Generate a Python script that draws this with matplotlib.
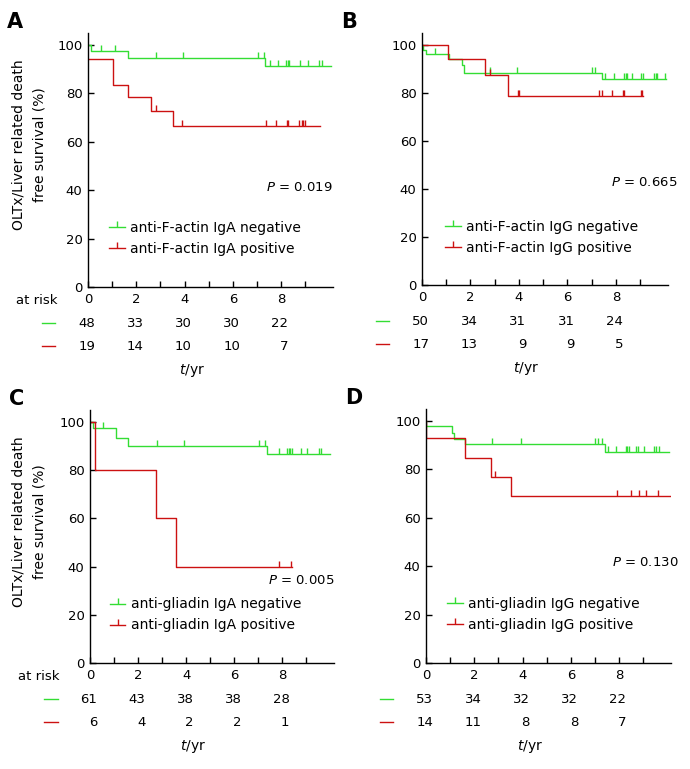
import matplotlib
matplotlib.use("Agg")
import matplotlib.pyplot as plt
from matplotlib.lines import Line2D
import numpy as np

GRUEN = "#33dd33"
ROT = "#cc1111"

# ---- Daten ----
# Panel A: anti-F-actin IgA
a_neg_t = [0, 0.12, 1.66, 7.34]
a_neg_s = [100, 97.6, 94.8, 91.5]
a_neg_ende = 10.05
a_neg_zens = [0.55, 1.13, 2.83, 3.93, 7.03, 7.28, 7.52, 7.86, 8.22, 8.28, 8.34,
              8.8, 9.1, 9.59, 9.7]
a_pos_t = [0, 1.03, 1.66, 2.62, 3.52]
a_pos_s = [94.4, 83.4, 78.4, 72.6, 66.4]
a_pos_ende = 9.61
a_pos_zens = [2.83, 3.9, 7.38, 7.79, 8.25, 8.3, 8.73, 8.85, 8.92, 8.98]
a_risk_neg = [48, 33, 30, 30, 22]
a_risk_pos = [19, 14, 10, 10, 7]

# Panel B: anti-F-actin IgG
b_neg_t = [0, 0.04, 0.18, 1.1, 1.65, 1.72, 7.42]
b_neg_s = [100, 98.0, 96.1, 94.1, 91.7, 88.5, 85.7]
b_neg_ende = 10.07
b_neg_zens = [0.52, 2.8, 3.93, 7.01, 7.15, 7.56, 7.93, 8.34, 8.4, 8.47, 8.68,
              9.05, 9.1, 9.58, 9.64, 9.7, 10.03]
b_pos_t = [0, 1.07, 2.61, 3.53]
b_pos_s = [100, 94.1, 87.3, 78.9]
b_pos_ende = 9.1
b_pos_zens = [2.81, 3.95, 4.02, 7.31, 7.42, 7.83, 8.3, 8.34, 9.05, 9.09]
b_risk_neg = [50, 34, 31, 31, 24]
b_risk_pos = [17, 13, 9, 9, 5]

# Panel C: anti-gliadin IgA
c_neg_t = [0, 0.14, 1.07, 1.58, 7.37]
c_neg_s = [100, 97.7, 93.5, 89.9, 86.6]
c_neg_ende = 10.0
c_neg_zens = [0.52, 2.77, 3.92, 7.05, 7.26, 7.88, 8.19, 8.26, 8.33, 8.42, 8.77,
              9.04, 9.52, 9.62]
c_pos_t = [0, 0.2, 2.74, 3.59]
c_pos_s = [100, 80, 60, 40]
c_pos_ende = 8.42
c_pos_zens = [7.85, 8.36]
c_risk_neg = [61, 43, 38, 38, 28]
c_risk_pos = [6, 4, 2, 2, 1]

# Panel D: anti-gliadin IgG
d_neg_t = [0, 0.02, 1.08, 1.16, 1.63, 7.42]
d_neg_s = [100, 98.1, 95.0, 92.6, 90.6, 87.3]
d_neg_ende = 10.06
d_neg_zens = [2.75, 3.92, 7.01, 7.11, 7.29, 7.52, 7.86, 8.27, 8.34, 8.41, 8.69,
              8.78, 9.03, 9.44, 9.54, 9.65]
d_pos_t = [0, 0.02, 1.61, 2.68, 3.53]
d_pos_s = [100, 92.9, 84.6, 76.9, 69.0]
d_pos_ende = 10.1
d_pos_zens = [2.87, 7.93, 8.48, 8.82, 9.12, 9.6]
d_risk_neg = [53, 34, 32, 32, 22]
d_risk_pos = [14, 11, 8, 8, 7]

risk_zeiten = [0, 2, 4, 6, 8]
x_ticks = list(range(10))
x_labels = [str(i) if i % 2 == 0 else "" for i in x_ticks]
y_ticks = [0, 20, 40, 60, 80, 100]

panels = [
    dict(buchstabe="A", neg=(a_neg_t, a_neg_s, a_neg_ende, a_neg_zens),
         pos=(a_pos_t, a_pos_s, a_pos_ende, a_pos_zens),
         risk=(a_risk_neg, a_risk_pos), p="0.019",
         labels=("anti-F-actin IgA negative", "anti-F-actin IgA positive"),
         rect=(88, 333, 287, 33), p_pos=(1.0, 41.3), leg=(0.085, 0.19), ylab=True),
    dict(buchstabe="B", neg=(b_neg_t, b_neg_s, b_neg_ende, b_neg_zens),
         pos=(b_pos_t, b_pos_s, b_pos_ende, b_pos_zens),
         risk=(b_risk_neg, b_risk_pos), p="0.665",
         labels=("anti-F-actin IgG negative", "anti-F-actin IgG positive"),
         rect=(422, 668, 285, 33), p_pos=(1.037, 42.5), leg=(0.093, 0.19), ylab=False),
    dict(buchstabe="C", neg=(c_neg_t, c_neg_s, c_neg_ende, c_neg_zens),
         pos=(c_pos_t, c_pos_s, c_pos_ende, c_pos_zens),
         risk=(c_risk_neg, c_risk_pos), p="0.005",
         labels=("anti-gliadin IgA negative", "anti-gliadin IgA positive"),
         rect=(90, 334, 663, 410), p_pos=(1.0, 34.3), leg=(0.08, 0.19), ylab=True),
    dict(buchstabe="D", neg=(d_neg_t, d_neg_s, d_neg_ende, d_neg_zens),
         pos=(d_pos_t, d_pos_s, d_pos_ende, d_pos_zens),
         risk=(d_risk_neg, d_risk_pos), p="0.130",
         labels=("anti-gliadin IgG negative", "anti-gliadin IgG positive"),
         rect=(426, 671, 663, 409), p_pos=(1.03, 41.7), leg=(0.085, 0.19), ylab=False),
]

W, H = 690, 769


def kurve(ax, daten, farbe):
    t, s, ende, zens = daten
    ax.step(list(t) + [ende], list(s) + [s[-1]], where="post", color=farbe, lw=1.0)
    idx = np.searchsorted(t, zens, side="right") - 1
    ax.plot(zens, np.array(s)[idx], ls="none", marker=2, ms=4, mew=1.0, color=farbe)


fig = plt.figure(figsize=(W / 100, H / 100), dpi=100)

for p in panels:
    l, r, b, t = p["rect"]
    ax = fig.add_axes([l / W, 1 - b / H, (r - l) / W, (b - t) / H])
    kurve(ax, p["neg"], GRUEN)
    kurve(ax, p["pos"], ROT)

    ax.set_xlim(0, 10.15)
    ax.set_ylim(0, 105)
    ax.set_xticks(x_ticks)
    ax.set_xticklabels(x_labels)
    ax.set_yticks(y_ticks)
    ax.tick_params(direction="in", length=4, width=1, labelsize=9.5, pad=4)
    for sp in ["top", "right"]:
        ax.spines[sp].set_visible(False)
    for sp in ["left", "bottom"]:
        ax.spines[sp].set_linewidth(1)

    # P-Wert
    ax.text(p["p_pos"][0], p["p_pos"][1], r"$P$ = " + p["p"], ha="right", va="center",
            fontsize=9.5, transform=ax.get_yaxis_transform())

    # Legende
    handles = [Line2D([], [], color=GRUEN, lw=1, marker=2, ms=4, mew=1),
               Line2D([], [], color=ROT, lw=1, marker=2, ms=4, mew=1)]
    ax.legend(handles, p["labels"], loc="center left", bbox_to_anchor=p["leg"],
              frameon=False, fontsize=10, numpoints=1, handlelength=1.15,
              handletextpad=0.4, labelspacing=0.5, borderpad=0, borderaxespad=0)

    # at risk Tabelle
    hoehe_px = b - t
    if p["ylab"]:
        ax.annotate("at risk", xy=(-2.13, 0), xycoords=("data", "axes fraction"),
                    xytext=(0, -9.5), textcoords="offset points", ha="center",
                    va="center", fontsize=9.5, annotation_clip=False)
    for zahlen, farbe, dy in [(p["risk"][0], GRUEN, -26), (p["risk"][1], ROT, -42.5)]:
        yf = dy / 0.72 / hoehe_px
        ax.plot([-1.9, -1.35], [yf, yf], color=farbe, lw=1,
                transform=ax.get_xaxis_transform(), clip_on=False)
        for z, x in zip(zahlen, risk_zeiten):
            ax.annotate(str(z), xy=(x + 0.3, 0), xycoords=("data", "axes fraction"),
                        xytext=(0, dy), textcoords="offset points", ha="right",
                        va="center", fontsize=9.5, annotation_clip=False)
    ax.annotate(r"$t$/yr", xy=(4.3, 0), xycoords=("data", "axes fraction"),
                xytext=(0, -60), textcoords="offset points", ha="center",
                va="center", fontsize=10, annotation_clip=False)

    fig.text((l - 81) / W, 1 - (t - 11) / H, p["buchstabe"], fontsize=15,
             fontweight="bold", ha="left", va="center")
    if p["ylab"]:
        fig.text(29 / W, 1 - (t + 112) / H, "OLTx/Liver related death\nfree survival (%)",
                 rotation=90, ha="center", va="center", fontsize=10,
                 multialignment="center", linespacing=1.6)

fig.savefig("out.png", dpi=100)
